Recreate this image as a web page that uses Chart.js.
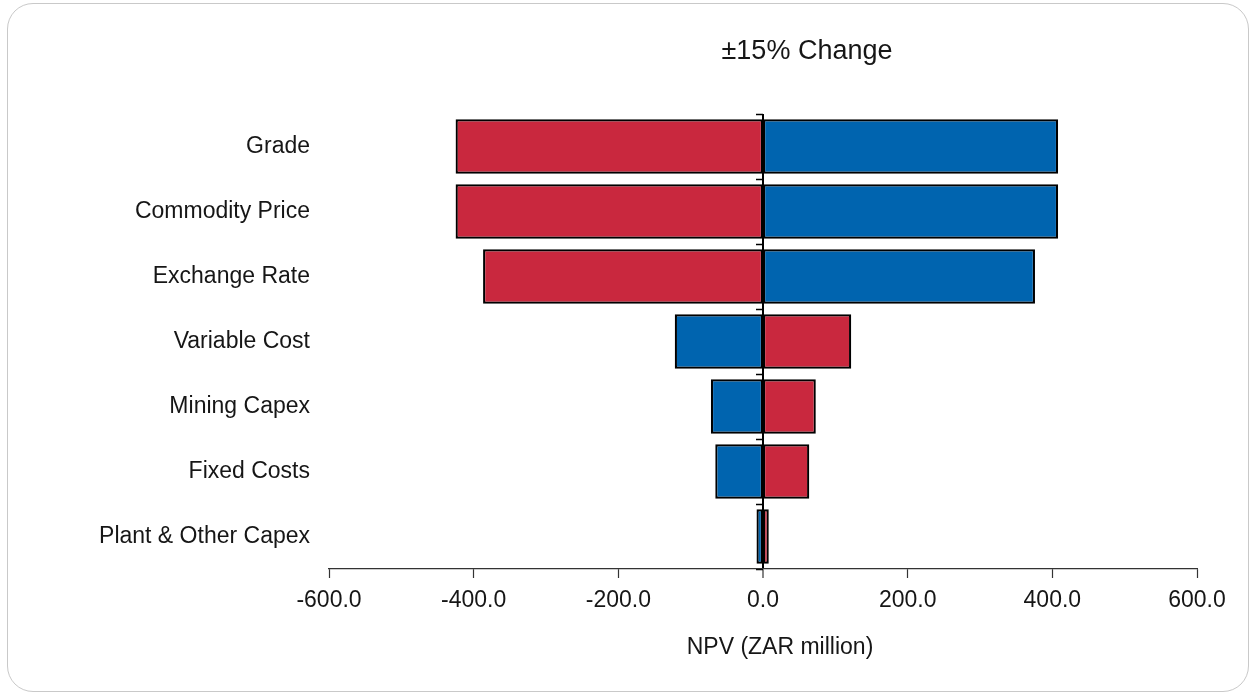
<!DOCTYPE html>
<html>
<head>
<meta charset="utf-8">
<script src="https://cdn.jsdelivr.net/npm/chart.js@4/dist/chart.umd.min.js"></script>
<style>
  html, body { margin: 0; padding: 0; background: #ffffff; }
  #wrap { position: relative; width: 1250px; height: 693px; overflow: hidden; }
  #frame { position: absolute; left: 7px; top: 3px; width: 1240px; height: 687px;
           border: 1.5px solid #c9c9c9; border-radius: 26px; }
  #c { position: absolute; left: 0; top: 0; }
</style>
</head>
<body>
<div id="wrap">
  <div id="frame"></div>
  <canvas id="c" width="1250" height="693"></canvas>
</div>
<script>
// ---- Data ----
const categories = ['Grade', 'Commodity Price', 'Exchange Rate', 'Variable Cost', 'Mining Capex', 'Fixed Costs', 'Plant & Other Capex'];
const leftValues = [-425, -425, -387, -122, -72, -66, -9];
const rightValues = [408, 408, 376, 122, 73, 64, 8];
const xTicks = [-600, -400, -200, 0, 200, 400, 600];
const chartTitle = '\u00B115% Change';
const xAxisTitle = 'NPV (ZAR million)';

// ---- Styles ----
const RED = '#C9283E';
const BLUE = '#0064AF';
const leftColors = categories.map((c, i) => i < 3 ? RED : BLUE);
const rightColors = categories.map((c, i) => i < 3 ? BLUE : RED);
const FONT = '"Liberation Sans", Arial, sans-serif';
const TEXT = '#161616';

const textPlugin = {
  id: 'texts',
  afterDraw(chart) {
    const ctx = chart.ctx;
    ctx.save();
    ctx.fillStyle = TEXT;
    ctx.textAlign = 'center';
    ctx.textBaseline = 'middle';
    ctx.font = '27px ' + FONT;
    ctx.fillText(chartTitle, 807, 52);
    ctx.font = '23px ' + FONT;
    ctx.fillText(xAxisTitle, 780, 648);
    ctx.restore();
  }
};

new Chart(document.getElementById('c'), {
  type: 'bar',
  data: {
    labels: categories,
    datasets: [
      { label: 'Low', data: leftValues, backgroundColor: leftColors, borderColor: '#000',
        borderWidth: { top: 2.2, bottom: 2.2, left: 2.2, right: 1.2 }, borderSkipped: false },
      { label: 'High', data: rightValues, backgroundColor: rightColors, borderColor: '#000',
        borderWidth: { top: 2.2, bottom: 2.2, left: 1.2, right: 2.2 }, borderSkipped: false }
    ]
  },
  options: {
    indexAxis: 'y',
    responsive: false,
    animation: false,
    devicePixelRatio: 1,
    layout: { padding: { top: 114, right: 53, left: 0, bottom: 0 } },
    datasets: { bar: { categoryPercentage: 1, barPercentage: 0.84 } },
    plugins: { legend: { display: false }, title: { display: false }, tooltip: { enabled: false } },
    scales: {
      x: {
        type: 'linear',
        min: -600, max: 600,
        afterBuildTicks(scale) { scale.ticks = xTicks.map(v => ({ value: v })); },
        afterFit(scale) { scale.height = 124; },
        ticks: { color: TEXT, font: { family: FONT, size: 23 }, padding: 9, callback: v => Number(v).toFixed(1) },
        grid: {
          color: c => (c.tick && c.tick.value === 0) ? '#000' : 'rgba(0,0,0,0)',
          lineWidth: c => (c.tick && c.tick.value === 0) ? 2 : 1,
          tickColor: '#333', tickLength: 9, tickWidth: 1.2
        },
        border: { display: true, color: '#333', width: 1.2 }
      },
      y: {
        stacked: true,
        afterFit(scale) { scale.width = 329; },
        ticks: { color: TEXT, font: { family: FONT, size: 23 }, padding: 19 },
        grid: { display: false, drawTicks: false },
        border: { display: false }
      },
      y2: {
        type: 'category',
        labels: categories,
        position: { x: 0 },
        offset: true,
        ticks: { display: false },
        grid: { offset: true, drawOnChartArea: false, color: '#000', tickColor: '#000', tickLength: 7, tickWidth: 1.5 },
        border: { display: false }
      }
    }
  },
  plugins: [textPlugin]
});
</script>
</body>
</html>
